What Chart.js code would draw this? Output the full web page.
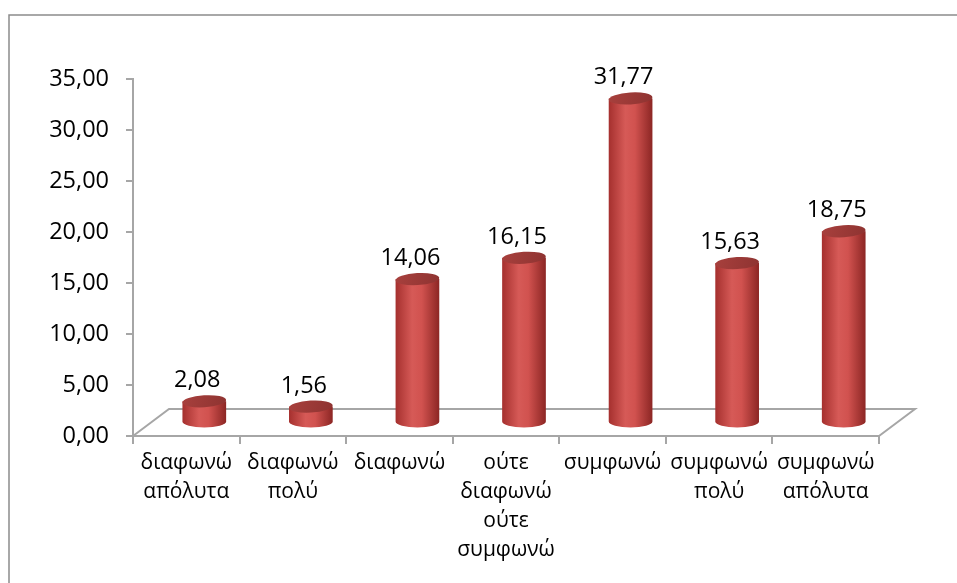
<!DOCTYPE html>
<html>
<head>
<meta charset="utf-8">
<script src="https://cdn.jsdelivr.net/npm/chart.js@4/dist/chart.umd.min.js"></script>
<style>
  body { margin: 0; background: #fff; }
  canvas { display: block; }
</style>
</head>
<body>
<canvas id="AnswersChart" width="957" height="583"></canvas>
<script>
// data
const categories = [
  ["διαφωνώ", "απόλυτα"],
  ["διαφωνώ", "πολύ"],
  ["διαφωνώ"],
  ["ούτε", "διαφωνώ", "ούτε", "συμφωνώ"],
  ["συμφωνώ"],
  ["συμφωνώ", "πολύ"],
  ["συμφωνώ", "απόλυτα"],
];
const percentValues = [2.08, 1.56, 14.06, 16.15, 31.77, 15.63, 18.75];
const yMin = 0;
const yMax = 35;
const yStep = 5;

const FONT = "'Open Sans', 'Noto Sans', 'DejaVu Sans', sans-serif";
const GREY = "#a6a6a6";
// depth of the 3d floor
const DEPTH_X = 36;
const DEPTH_Y = 27;

function formatNumber(v) {
  return Number(v).toFixed(2).replace(".", ",");
}

function drawCylinder(ctx, cx, top, base, w) {
  const rx = w / 2;
  const ry = 6;
  const body = ctx.createLinearGradient(cx - rx, 0, cx + rx, 0);
  body.addColorStop(0, "#a5302e");
  body.addColorStop(0.38, "#d65a57");
  body.addColorStop(0.6, "#d1524f");
  body.addColorStop(1, "#8c2624");
  ctx.beginPath();
  ctx.moveTo(cx - rx, top);
  ctx.lineTo(cx - rx, base);
  ctx.ellipse(cx, base, rx, ry, 0, Math.PI, 0, true);
  ctx.lineTo(cx + rx, top);
  ctx.closePath();
  ctx.fillStyle = body;
  ctx.fill();

  const cap = ctx.createLinearGradient(cx - rx, top - ry, cx + rx, top + ry);
  cap.addColorStop(0, "#a8403d");
  cap.addColorStop(1, "#8e3331");
  ctx.beginPath();
  ctx.ellipse(cx, top, rx, ry, -0.06, 0, Math.PI * 2);
  ctx.fillStyle = cap;
  ctx.fill();
}

const frameAndFloor = {
  id: "frameAndFloor",
  beforeDatasetsDraw(chart) {
    const { ctx, chartArea } = chart;
    ctx.save();
    // outer frame
    ctx.strokeStyle = "#8c8c8c";
    ctx.lineWidth = 1.5;
    ctx.beginPath();
    ctx.moveTo(9, chart.height + 2);
    ctx.lineTo(9, 15);
    ctx.lineTo(chart.width + 2, 15);
    ctx.stroke();
    // floor
    const l = chartArea.left;
    const r = chartArea.right;
    const b = chartArea.bottom;
    ctx.strokeStyle = GREY;
    ctx.lineWidth = 2;
    ctx.beginPath();
    ctx.moveTo(l, b);
    ctx.lineTo(l + DEPTH_X, b - DEPTH_Y);
    ctx.lineTo(r + DEPTH_X, b - DEPTH_Y);
    ctx.lineTo(r, b);
    ctx.stroke();
    ctx.restore();
  },
  afterDatasetsDraw(chart) {
    const { ctx } = chart;
    const meta = chart.getDatasetMeta(0);
    ctx.save();
    meta.data.forEach((bar, i) => {
      const cx = bar.x + DEPTH_X / 2;
      const top = bar.y - DEPTH_Y / 2;
      const base = bar.base - DEPTH_Y / 2;
      drawCylinder(ctx, cx, top, base, bar.width);
      ctx.fillStyle = "#000";
      ctx.font = "23.5px " + FONT;
      ctx.textAlign = "center";
      ctx.textBaseline = "alphabetic";
      ctx.fillText(formatNumber(percentValues[i]), cx - 7, top - 14);
    });
    ctx.restore();
  },
};

new Chart(document.getElementById("AnswersChart"), {
  type: "bar",
  data: {
    labels: categories,
    datasets: [
      {
        data: percentValues,
        backgroundColor: "rgba(0,0,0,0)",
        borderWidth: 0,
        barPercentage: 0.41,
        categoryPercentage: 1,
      },
    ],
  },
  options: {
    responsive: false,
    animation: false,
    devicePixelRatio: 1,
    layout: { padding: { top: 79, right: 78, left: 0, bottom: 0 } },
    plugins: {
      legend: { display: false },
      tooltip: { enabled: false },
    },
    scales: {
      x: {
        offset: true,
        grid: {
          display: true,
          drawOnChartArea: false,
          drawTicks: true,
          tickLength: 8,
          color: GREY,
          lineWidth: 2,
          offset: true,
        },
        border: { display: true, color: GREY, width: 2 },
        ticks: {
          color: "#000",
          font: { family: FONT, size: 21, lineHeight: 1.38 },
          maxRotation: 0,
          minRotation: 0,
          autoSkip: false,
          padding: 5,
        },
        afterFit(scale) {
          scale.height = 147;
        },
      },
      y: {
        min: yMin,
        max: yMax,
        grid: {
          display: true,
          drawOnChartArea: false,
          drawTicks: true,
          tickLength: 7,
          color: GREY,
          lineWidth: 2,
        },
        border: { display: true, color: GREY, width: 2 },
        ticks: {
          stepSize: yStep,
          color: "#000",
          font: { family: FONT, size: 23.5 },
          padding: 17,
          callback: (v) => formatNumber(v),
        },
        afterFit(scale) {
          scale.width = 133;
        },
      },
    },
  },
  plugins: [frameAndFloor],
});
</script>
</body>
</html>
